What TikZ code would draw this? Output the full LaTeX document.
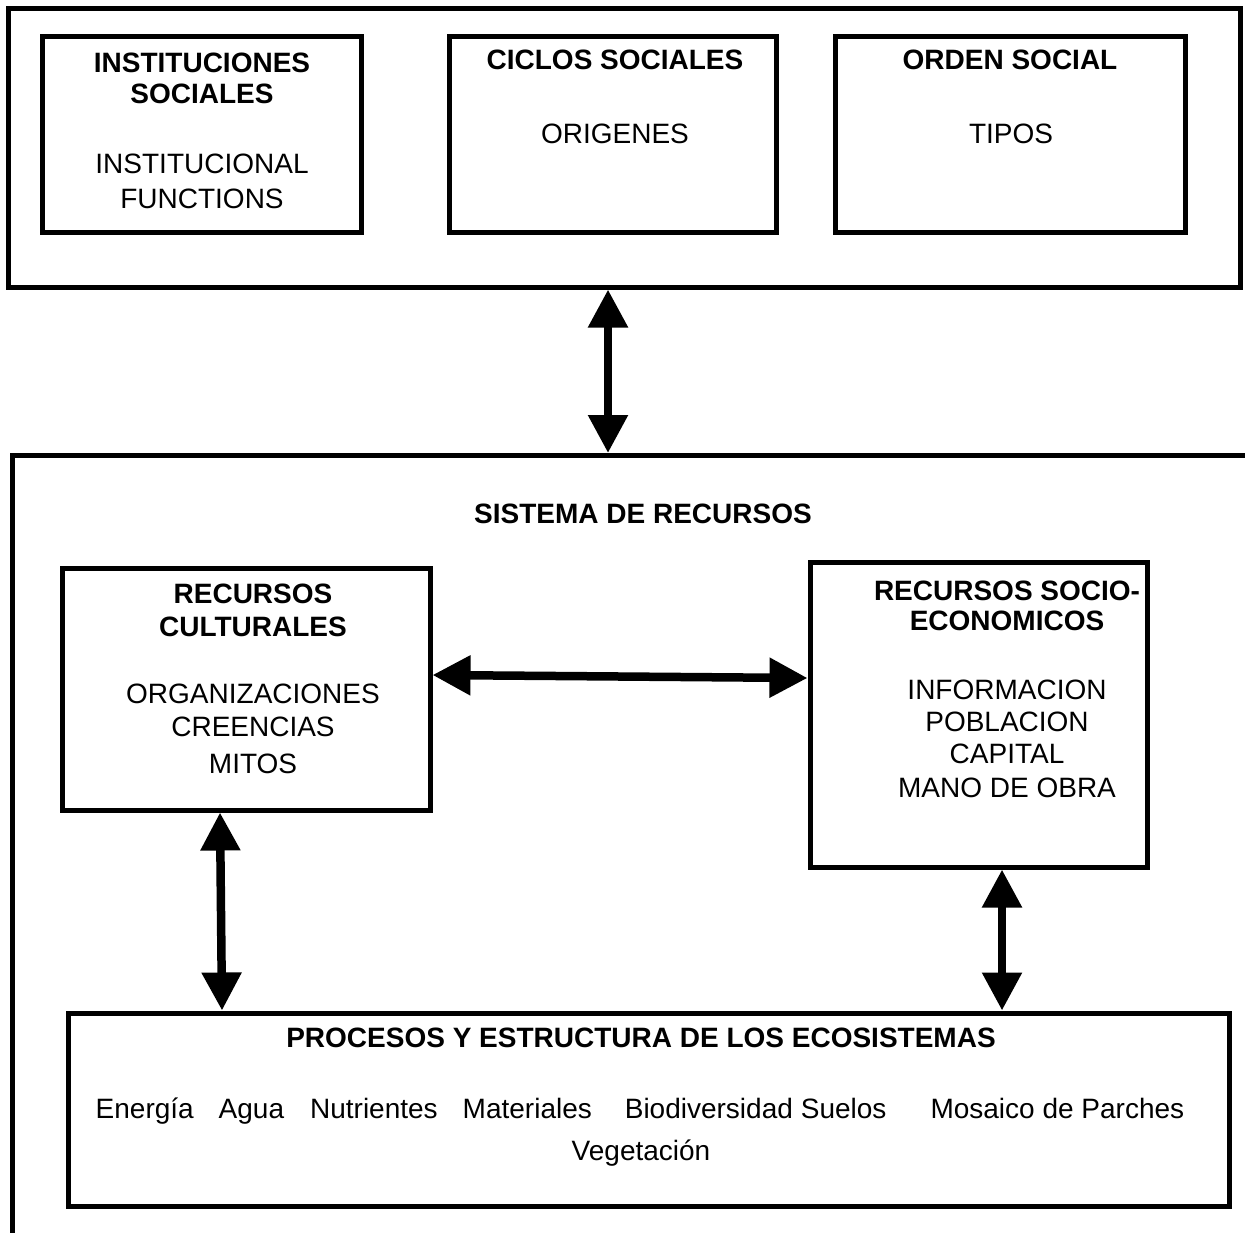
\documentclass[tikz,border=0pt]{standalone}
\usepackage{fontspec}
\setmainfont{Liberation Sans}
\usetikzlibrary{arrows.meta}
\begin{document}
\begin{tikzpicture}[x=0.5pt,y=-0.5pt,
  frame/.style={draw,line width=2.5pt,inner sep=0pt},
  txt/.style={anchor=base,inner sep=0pt,font=\fontsize{14pt}{16pt}\selectfont},
  btxt/.style={txt,font=\fontsize{14pt}{16pt}\selectfont\bfseries},
  dbl/.style={line width=4.25pt,{Triangle[width=19pt,length=19pt]}-{Triangle[width=19pt,length=19pt]}}]
\useasboundingbox (0,0) rectangle (1245,1232);
% top frame and boxes
\node[frame,minimum width=616pt,minimum height=139.5pt] (topframe) at (624,147.5) {};
\node[frame,minimum width=159.5pt,minimum height=98pt] (inst) at (201.5,134) {};
\node[frame,minimum width=163.5pt,minimum height=98pt] (ciclos) at (612.5,134) {};
\node[frame,minimum width=175pt,minimum height=98pt] (orden) at (1010,134) {};
\node[btxt] (t1a) at (202,72) {INSTITUCIONES};
\node[btxt] (t1b) at (202,103) {SOCIALES};
\node[txt] (t1c) at (202,173) {INSTITUCIONAL};
\node[txt] (t1d) at (202,208) {FUNCTIONS};
\node[btxt] (t2a) at (615,69) {CICLOS SOCIALES};
\node[txt] (t2b) at (615,143) {ORIGENES};
\node[btxt] (t3a) at (1010,69) {ORDEN SOCIAL};
\node[txt] (t3b) at (1011,143) {TIPOS};
% lower open frame
\coordinate (lfr) at (1260,455);
\coordinate (lfc) at (12,455);
\coordinate (lfb) at (12,1250);
\coordinate (lowtop) at (608,453);
\draw[line width=2.5pt] (lfr) -- (lfc) -- (lfb);
\node[btxt] (sis) at (643,523) {SISTEMA DE RECURSOS};
% resource boxes
\node[frame,minimum width=184pt,minimum height=121pt] (rc) at (246,689) {};
\node[frame,minimum width=168.5pt,minimum height=152.5pt] (rse) at (978.5,714.5) {};
\node[frame,minimum width=580.5pt,minimum height=96.5pt] (eco) at (648.5,1109.5) {};
\node[btxt] (r1a) at (253,603) {RECURSOS};
\node[btxt] (r1b) at (253,636) {CULTURALES};
\node[txt] (r1c) at (253,703) {ORGANIZACIONES};
\node[txt] (r1d) at (253,736) {CREENCIAS};
\node[txt] (r1e) at (253,773) {MITOS};
\node[btxt] (r2a) at (1007,600) {RECURSOS SOCIO-};
\node[btxt] (r2b) at (1007,630) {ECONOMICOS};
\node[txt] (r2c) at (1007,699) {INFORMACION};
\node[txt] (r2d) at (1007,731) {POBLACION};
\node[txt] (r2e) at (1007,763) {CAPITAL};
\node[txt] (r2f) at (1007,797) {MANO DE OBRA};
\node[btxt] (e1) at (641,1047) {PROCESOS Y ESTRUCTURA DE LOS ECOSISTEMAS};
\node[txt] (e2) at (640,1118) {Energía\hspace{12.5pt}Agua\hspace{13pt}Nutrientes\hspace{12.5pt}Materiales\hspace{16.5pt}Biodiversidad\hspace{4pt}Suelos\hspace{22pt}Mosaico de Parches};
\node[txt] (e3) at (641,1160) {Vegetación};
% arrows
\draw[dbl] (608,0 |- topframe.south) -- (lowtop);
\draw[dbl] (rc.east |- 0,675) -- (rse.west |- 0,678);
\draw[dbl] (220,0 |- rc.south) -- (222,0 |- eco.north);
\draw[dbl] (1002,0 |- rse.south) -- (1002,0 |- eco.north);
\end{tikzpicture}
\end{document}
